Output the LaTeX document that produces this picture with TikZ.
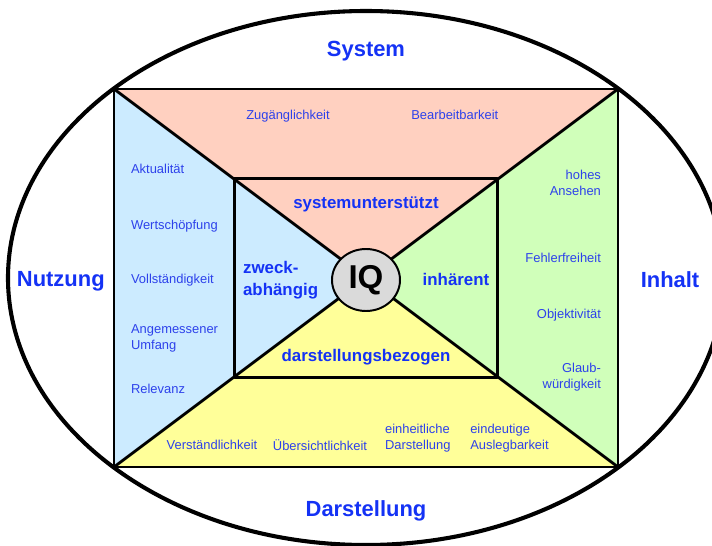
\documentclass[tikz,border=0pt]{standalone}
\usepackage{fontspec}
\setmainfont{Liberation Sans}
\usepackage{tkz-euclide}
\usetikzlibrary{shapes.geometric}
\definecolor{sysrot}{RGB}{255,208,192}
\definecolor{nutzblau}{RGB}{204,235,255}
\definecolor{inhgruen}{RGB}{208,255,186}
\definecolor{darstgelb}{RGB}{255,255,153}
\definecolor{iqgrau}{RGB}{218,218,218}
\definecolor{blautext}{RGB}{45,65,235}
\definecolor{blaufett}{RGB}{20,50,245}
\tikzset{>=stealth,
  klein/.style={text=blautext, font=\fontsize{9.2}{11.4}\selectfont, inner sep=0pt},
  mittel/.style={text=blaufett, font=\fontsize{12}{15.6}\selectfont\bfseries, inner sep=0pt},
  gross/.style={text=blaufett, font=\fontsize{15.6}{18}\selectfont\bfseries, inner sep=0pt}}

\begin{document}
\begin{tikzpicture}
\useasboundingbox (-9.15,-6.7) rectangle (8.65,6.95);
\tkzDefPoints{0/0/O, -6.3/4.725/A, 6.3/4.725/B, 6.3/-4.725/C, -6.3/-4.725/D}
\tkzDefPoints{-3.28/2.48/E, 3.28/2.48/F, 3.28/-2.48/G, -3.28/-2.48/H}
\tkzFillPolygon[color=sysrot](A,B,O)
\tkzFillPolygon[color=nutzblau](A,D,O)
\tkzFillPolygon[color=inhgruen](B,C,O)
\tkzFillPolygon[color=darstgelb](D,C,O)
\tkzDrawSegments[line width=2pt](A,O B,O C,O D,O)
\tkzDrawPolygon[line width=2pt](A,B,C,D)
\tkzDrawPolygon[line width=2pt](E,F,G,H)
\draw[line width=2.9pt] (O) ellipse [x radius=8.95, y radius=6.675];
\node[ellipse, draw, line width=1.4pt, fill=iqgrau, minimum width=1.7cm, minimum height=1.55cm, inner sep=0pt,
  font=\fontsize{23.5}{26}\selectfont\bfseries] (iq) at (0,-0.05) {IQ};
\node[gross] (system) at (0,5.68) {System};
\node[gross] (nutzung) at (-7.63,-0.08) {Nutzung};
\node[gross] (inhalt) at (7.6,-0.03) {Inhalt};
\node[gross] (darstellung) at (0,-5.83) {Darstellung};
\node[mittel] (sysunt) at (0,1.85) {systemunterstützt};
\node[mittel, align=left, anchor=west] (zweck) at (-3.08,-0.06) {zweck-\\abhängig};
\node[mittel] (inhaerent) at (2.25,-0.03) {inhärent};
\node[mittel] (darstbez) at (0,-1.99) {darstellungsbezogen};
\node[klein] (zugang) at (-1.95,4.05) {Zugänglichkeit};
\node[klein] (bearb) at (2.22,4.08) {Bearbeitbarkeit};
\node[klein, anchor=west] (aktual) at (-5.88,2.72) {Aktualität};
\node[klein, anchor=west] (wert) at (-5.88,1.29) {Wertschöpfung};
\node[klein, anchor=west] (vollst) at (-5.88,-0.05) {Vollständigkeit};
\node[klein, anchor=west, align=left] (umfang) at (-5.88,-1.5) {Angemessener\\Umfang};
\node[klein, anchor=west] (relevanz) at (-5.88,-2.78) {Relevanz};
\node[klein, anchor=east, align=right] (ansehen) at (5.88,2.37) {hohes\\Ansehen};
\node[klein, anchor=east] (fehler) at (5.88,0.5) {Fehlerfreiheit};
\node[klein, anchor=east] (objekt) at (5.88,-0.93) {Objektivität};
\node[klein, anchor=east, align=right] (glaub) at (5.88,-2.47) {Glaub-\\würdigkeit};
\node[klein] (verst) at (-3.85,-4.17) {Verständlichkeit};
\node[klein] (uebers) at (-1.15,-4.19) {Übersichtlichkeit};
\node[klein, anchor=west, align=left] (einheit) at (0.47,-4.01) {einheitliche\\Darstellung};
\node[klein, anchor=west, align=left] (eindeut) at (2.6,-4.01) {eindeutige\\Auslegbarkeit};
\end{tikzpicture}
\end{document}
